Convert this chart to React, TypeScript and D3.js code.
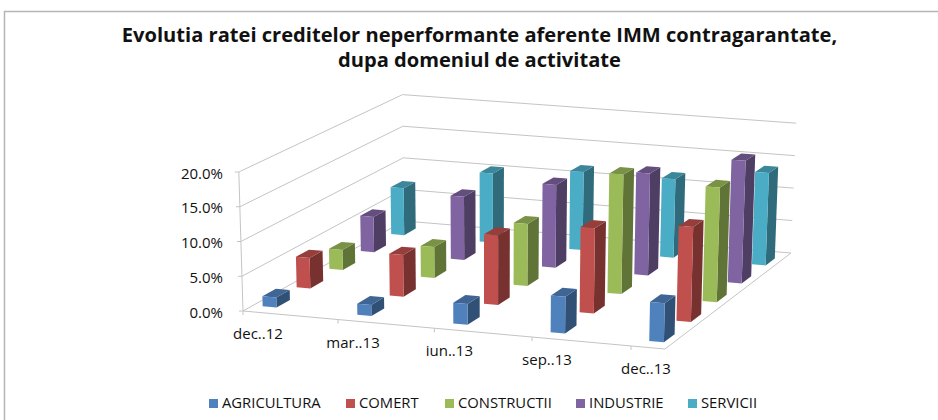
import React from "react";
import * as d3 from "d3";

const categories = ["dec..12", "mar..13", "iun..13", "sep..13", "dec..13"];
const seriesNames = ["AGRICULTURA", "COMERT", "CONSTRUCTII", "INDUSTRIE", "SERVICII"];
const seriesColors = ["#4F81BD", "#C0504D", "#9BBB59", "#8064A2", "#4BACC6"];
const agricultura = [1.45, 1.6, 2.95, 5.2, 5.5];
const comert = [4.5, 6.1, 10.1, 12.3, 13.6];
const constructii = [3.0, 4.6, 9.2, 17.6, 16.8];
const industrie = [5.4, 9.6, 12.5, 15.3, 18.3];
const servicii = [7.3, 10.7, 12.0, 12.0, 14.05];
const allSeries = [agricultura, comert, constructii, industrie, servicii];
const yTicks = [0, 5, 10, 15, 20];

const legendX = [209, 346, 445, 576, 688];

// floor of the 3D box, unit square -> screen
const p0 = [243, 311];
const p1 = [665, 349];
const p2 = [791, 253];
const p3 = [404, 221];
const sx = p0[0] - p1[0] + p2[0] - p3[0];
const sy = p0[1] - p1[1] + p2[1] - p3[1];
const dx1 = p1[0] - p2[0];
const dx2 = p3[0] - p2[0];
const dy1 = p1[1] - p2[1];
const dy2 = p3[1] - p2[1];
const den = dx1 * dy2 - dx2 * dy1;
const g = (sx * dy2 - dx2 * sy) / den;
const h = (dx1 * sy - sx * dy1) / den;
const a = p1[0] - p0[0] + g * p1[0];
const b = p3[0] - p0[0] + h * p3[0];
const c = p1[1] - p0[1] + g * p1[1];
const d = p3[1] - p0[1] + h * p3[1];

const wallHeight = d3.scaleLinear().domain([0, 20]).range([0, 139]);
const uScale = d3.scaleLinear().domain([0, 1]).range([0, 0.2304]);
const vScale = d3.scaleLinear().domain([0, 1]).range([0.056, 0.255]);
const barU = 0.034;
const barV = 0.078;
const barOffset = 0.024;

function project(u: number, v: number, val: number): [number, number] {
  const w = 1 + g * u + h * v;
  const x = (p0[0] + a * u + b * v) / w;
  const y = (p0[1] + c * u + d * v) / w;
  const hgt = wallHeight(val) / w;
  return [x + (x - 490) * 0.017 * (val / 20), y - hgt];
}

const pts = (list: [number, number][]) => list.map((p) => p.join(",")).join(" ");

const gridColor = "#c4c4c4";
const font = "'Open Sans', sans-serif";

function Bar({ i, s }: { i: number; s: number }) {
  const val = allSeries[s][i];
  const u0 = uScale(i) + barOffset;
  const u1 = u0 + barU;
  const v0 = vScale(s);
  const v1 = v0 + barV;
  const col = d3.rgb(seriesColors[s]);
  const side = `rgb(${col.r * 0.62},${col.g * 0.62},${col.b * 0.62})`;
  const top = `rgb(${col.r * 0.78},${col.g * 0.78},${col.b * 0.78})`;
  return (
    <g>
      <polygon
        points={pts([project(u1, v0, 0), project(u1, v1, 0), project(u1, v1, val), project(u1, v0, val)])}
        fill={side}
      />
      <polygon
        points={pts([project(u0, v0, val), project(u1, v0, val), project(u1, v1, val), project(u0, v1, val)])}
        fill={top}
      />
      <polygon
        points={pts([project(u0, v0, 0), project(u1, v0, 0), project(u1, v0, val), project(u0, v0, val)])}
        fill={seriesColors[s]}
      />
    </g>
  );
}

export default function App() {
  const fmt = d3.format(".1f");
  const order: { i: number; s: number }[] = [];
  for (let s = seriesNames.length - 1; s >= 0; s--) {
    categories.forEach((_, i) => order.push({ i, s }));
  }

  return (
    <svg width={938} height={420} style={{ position: "absolute", left: 0, top: 0, background: "#fff" }}>
      <path d="M4.5,420V11.5H938" fill="none" stroke="#b5b5b5" strokeWidth={1.5} />

      <text x={479.5} y={42} textAnchor="middle" fontFamily={font} fontWeight={700} fontSize={20.1} fill="#111">
        Evolutia ratei creditelor neperformante aferente IMM contragarantate,
      </text>
      <text x={479.5} y={67} textAnchor="middle" fontFamily={font} fontWeight={700} fontSize={20.1} fill="#111">
        dupa domeniul de activitate
      </text>

      {/* walls */}
      {yTicks.map((t) => {
        const fl = project(0, 0, t);
        const bl = project(0, 1, t);
        const br = project(1, 1, t);
        return (
          <g key={t}>
            <polyline points={pts([fl, bl, br])} fill="none" stroke={gridColor} strokeWidth={1} />
            <line x1={fl[0] - 4} y1={fl[1]} x2={fl[0]} y2={fl[1]} stroke={gridColor} />
            <text
              x={223}
              y={fl[1] + 2.5}
              textAnchor="end"
              dominantBaseline="middle"
              fontFamily={font}
              fontSize={15}
              fill="#111"
            >
              {fmt(t)}%
            </text>
          </g>
        );
      })}
      <line x1={project(0, 0, 0)[0]} y1={project(0, 0, 0)[1]} x2={project(0, 0, 20)[0]} y2={project(0, 0, 20)[1]} stroke={gridColor} />

      {/* floor edges */}
      <polyline points={pts([p0 as [number, number], p1 as [number, number], p2 as [number, number]])} fill="none" stroke={gridColor} />

      {categories.map((cat, i) => {
        const q = project(uScale(i), 0, 0);
        return (
          <g key={cat}>
            <line x1={q[0]} y1={q[1]} x2={q[0]} y2={q[1] + 4} stroke={gridColor} />
            <text
              x={q[0] + 15}
              y={q[1] + 24}
              textAnchor="middle"
              dominantBaseline="middle"
              fontFamily={font}
              fontSize={15}
              fill="#111"
            >
              {cat}
            </text>
          </g>
        );
      })}

      {order.map(({ i, s }) => (
        <Bar key={`${s}-${i}`} i={i} s={s} />
      ))}

      {seriesNames.map((name, s) => (
        <g key={name}>
          <rect x={legendX[s]} y={399} width={9} height={9} fill={seriesColors[s]} />
          <text
            x={legendX[s] + 13}
            y={404.5}
            dominantBaseline="middle"
            fontFamily={font}
            fontSize={14.8}
            fill="#111"
          >
            {name}
          </text>
        </g>
      ))}
    </svg>
  );
}
